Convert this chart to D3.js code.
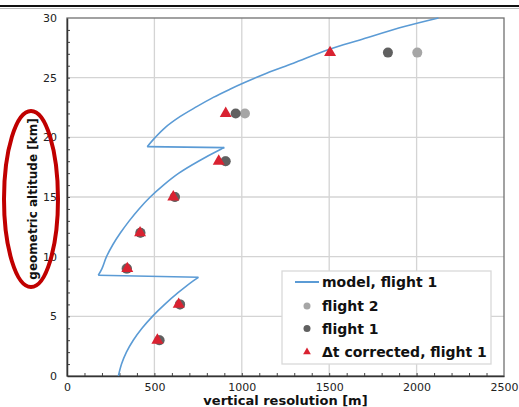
<!DOCTYPE html>
<html>
<head>
<meta charset="utf-8">
<script src="https://cdn.jsdelivr.net/npm/d3@7"></script>
<style>
  body { margin: 0; background: #fff; }
  text { font-family: "DejaVu Sans", Verdana, sans-serif; }
</style>
</head>
<body>
<div id="chart"></div>
<script>
// model curve, flight 1 (resolution in m, altitude in km), three branches
var modelRes1 = [294, 312, 340, 379, 429, 489, 559, 637, 724, 752];
var modelAlt1 = [0, 1, 2, 3, 4, 5, 6, 7, 8, 8.27];
var modelRes2 = [179, 200, 226, 262, 306, 356, 412, 476, 552, 640, 752, 880, 900];
var modelAlt2 = [8.44, 9, 10, 11, 12, 13, 14, 15, 16, 17, 18, 19, 19.14];
var modelRes3 = [459, 505, 560, 646, 742, 837, 932, 1016, 1142, 1295, 1501, 1676, 1930, 2125];
var modelAlt3 = [19.22, 20, 20.8, 21.73, 22.57, 23.35, 24.03, 24.59, 25.37, 26.21, 27.38, 28.16, 29.28, 30];

var pointAlt = [3, 6, 9, 12, 15, 18, 22, 27.1];
var flight2Res = [525, 645, 340, 420, 615, 905, 1018, 2004];
var flight1Res = [530, 647, 343, 420, 618, 908, 965, 1836];
var correctedRes = [517, 639, 345, 418, 608, 868, 908, 1505];

var xTicks = [0, 500, 1000, 1500, 2000, 2500];
var yTicks = [0, 5, 10, 15, 20, 25, 30];

var legendLabels = ["model, flight 1", "flight 2", "flight 1", "\u0394t corrected, flight 1"];

function init() {
    var W = 519, H = 407;
    var margin = {top: 18, right: 15, bottom: 31, left: 67};
    var w = W - margin.left - margin.right;
    var h = H - margin.top - margin.bottom;

    var svg = d3.select("#chart").append("svg")
        .attr("width", W)
        .attr("height", H);

    // page rule at the top
    svg.append("line").attr("x1", 0).attr("x2", W).attr("y1", 6).attr("y2", 6)
        .attr("stroke", "#111").attr("stroke-width", 2);
    svg.append("line").attr("x1", 0).attr("x2", W).attr("y1", 8.5).attr("y2", 8.5)
        .attr("stroke", "#bbb").attr("stroke-width", 1);

    var g = svg.append("g")
        .attr("transform", "translate(" + margin.left + "," + margin.top + ")");

    var x = d3.scaleLinear().domain([0, 2500]).range([0, w]);
    var y = d3.scaleLinear().domain([0, 30]).range([h, 0]);

    // grid
    g.append("g").selectAll("line").data(xTicks.slice(1, -1)).enter().append("line")
        .attr("x1", function (d) { return x(d); }).attr("x2", function (d) { return x(d); })
        .attr("y1", 0).attr("y2", h)
        .attr("stroke", "#d4d4d4").attr("stroke-width", 1.3);
    g.append("g").selectAll("line").data(yTicks.slice(1, -1)).enter().append("line")
        .attr("y1", function (d) { return y(d); }).attr("y2", function (d) { return y(d); })
        .attr("x1", 0).attr("x2", w)
        .attr("stroke", "#d4d4d4").attr("stroke-width", 1.3);

    // frame
    g.append("rect").attr("width", w).attr("height", h)
        .attr("fill", "none").attr("stroke", "#707070").attr("stroke-width", 1.3);

    // minor ticks (inside)
    g.append("g").call(d3.axisBottom(x).tickValues(d3.range(100, 2500, 100)).tickSize(-3).tickFormat(""))
        .attr("transform", "translate(0," + h + ")")
        .call(function (a) { a.select(".domain").remove(); a.selectAll("line").attr("stroke", "#444"); });
    g.append("g").call(d3.axisLeft(y).tickValues(d3.range(1, 30, 1)).tickSize(-3).tickFormat(""))
        .call(function (a) { a.select(".domain").remove(); a.selectAll("line").attr("stroke", "#444"); });

    // major axes
    var xAxis = g.append("g").attr("transform", "translate(0," + h + ")")
        .call(d3.axisBottom(x).tickValues(xTicks).tickFormat(d3.format("d")).tickSize(0).tickPadding(7));
    xAxis.select(".domain").attr("stroke", "#333").attr("stroke-width", 1.5);
    xAxis.selectAll("text").attr("font-size", "11px").attr("fill", "#222")
        .style("font-family", "DejaVu Sans, Verdana, sans-serif");

    var yAxis = g.append("g")
        .call(d3.axisLeft(y).tickValues(yTicks).tickFormat(d3.format("d")).tickSize(0).tickPadding(10));
    yAxis.select(".domain").attr("stroke", "#333").attr("stroke-width", 1.5);
    yAxis.selectAll("text").attr("font-size", "11px").attr("fill", "#222")
        .style("font-family", "DejaVu Sans, Verdana, sans-serif");

    // model line: smooth branches joined by straight jumps
    function pairs(res, alt) { return res.map(function (d, i) { return [d, alt[i]]; }); }
    var branches = [pairs(modelRes1, modelAlt1), pairs(modelRes2, modelAlt2), pairs(modelRes3, modelAlt3)];
    var smooth = d3.line()
        .curve(d3.curveCatmullRom.alpha(0.5))
        .x(function (d) { return x(d[0]); })
        .y(function (d) { return y(d[1]); });
    var straight = d3.line()
        .x(function (d) { return x(d[0]); })
        .y(function (d) { return y(d[1]); });
    var jumps = [[branches[0][branches[0].length - 1], branches[1][0]],
                 [branches[1][branches[1].length - 1], branches[2][0]]];
    g.append("g").selectAll("path").data(branches).enter().append("path")
        .attr("d", smooth)
        .attr("fill", "none").attr("stroke", "#5b9bd5").attr("stroke-width", 1.6);
    g.append("g").selectAll("path").data(jumps).enter().append("path")
        .attr("d", straight)
        .attr("fill", "none").attr("stroke", "#5b9bd5").attr("stroke-width", 1.6)
        .attr("stroke-linejoin", "round");

    // points
    g.append("g").selectAll("circle").data(flight2Res).enter().append("circle")
        .attr("cx", function (d) { return x(d); })
        .attr("cy", function (d, i) { return y(pointAlt[i]); })
        .attr("r", 5).attr("fill", "#a6a6a6");
    g.append("g").selectAll("circle").data(flight1Res).enter().append("circle")
        .attr("cx", function (d) { return x(d); })
        .attr("cy", function (d, i) { return y(pointAlt[i]); })
        .attr("r", 5).attr("fill", "#606060");
    var tri = d3.symbol().type(d3.symbolTriangle).size(62);
    g.append("g").selectAll("path").data(correctedRes).enter().append("path")
        .attr("d", tri)
        .attr("transform", function (d, i) { return "translate(" + x(d) + "," + y(pointAlt[i]) + ")"; })
        .attr("fill", "#d92231");

    // legend
    var lg = svg.append("g").attr("transform", "translate(282,271)");
    lg.append("rect").attr("width", 209).attr("height", 93)
        .attr("fill", "#fff").attr("stroke", "#d9d9d9").attr("stroke-width", 1.3);
    var rowY = [11, 35, 57.5, 81];
    lg.selectAll("text").data(legendLabels).enter().append("text")
        .attr("x", 40).attr("y", function (d, i) { return rowY[i]; })
        .attr("dy", "0.36em")
        .attr("font-size", "14px").attr("font-weight", "bold").attr("fill", "#111")
        .text(function (d) { return d; });
    lg.append("line").attr("x1", 13).attr("x2", 37).attr("y1", rowY[0]).attr("y2", rowY[0])
        .attr("stroke", "#5b9bd5").attr("stroke-width", 2);
    lg.append("circle").attr("cx", 25).attr("cy", rowY[1]).attr("r", 3.5).attr("fill", "#a6a6a6");
    lg.append("circle").attr("cx", 25).attr("cy", rowY[2]).attr("r", 3.5).attr("fill", "#606060");
    lg.append("path").attr("d", d3.symbol().type(d3.symbolTriangle).size(26))
        .attr("transform", "translate(25," + rowY[3] + ")").attr("fill", "#d92231");

    // axis titles
    svg.append("text")
        .attr("x", margin.left + x(1250)).attr("y", 405)
        .attr("text-anchor", "middle")
        .attr("font-size", "13px").attr("font-weight", "bold").attr("fill", "#111")
        .text("vertical resolution [m]");
    svg.append("text")
        .attr("transform", "translate(37,199) rotate(-90)")
        .attr("text-anchor", "middle")
        .attr("font-size", "12px").attr("font-weight", "bold").attr("fill", "#111")
        .text("geometric altitude [km]");

    // red ellipse around the y title
    svg.append("ellipse")
        .attr("cx", 31).attr("cy", 199).attr("rx", 27).attr("ry", 88)
        .attr("fill", "none").attr("stroke", "#c00000").attr("stroke-width", 4);
}

window.onload = init;
</script>
</body>
</html>
